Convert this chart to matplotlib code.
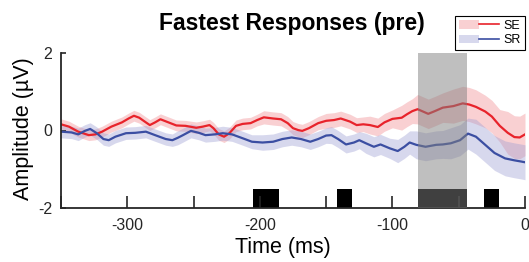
import matplotlib
matplotlib.use("Agg")
import matplotlib.pyplot as plt
from matplotlib.lines import Line2D
from matplotlib.patches import Patch
from matplotlib.legend_handler import HandlerTuple

plt.rcParams['font.family'] = ['Liberation Sans', 'DejaVu Sans']

# ---------------- data ----------------
title = "Fastest Responses (pre)"
xlabel = "Time (ms)"
ylabel = "Amplitude (\u00b5V)"
series_names = ["SE", "SR"]

red_t = [-350, -344, -337, -329, -324, -319, -312, -304, -299, -295,
         -291, -286, -283, -279, -275, -269, -263, -256, -248, -243,
         -238, -235, -231, -227, -223, -218, -213, -207, -202, -197,
         -190, -184, -179, -175, -171, -168, -163, -156, -150, -144,
         -139, -132, -127, -122, -117, -111, -106, -100, -93, -89,
         -85, -81, -77, -73, -68, -62, -54, -47, -42, -37,
         -30, -25, -19, -13, -8, -4, 0]
red_v = [0.16, 0.10, -0.03, -0.12, -0.10, -0.03, 0.10, 0.21, 0.31, 0.38,
         0.33, 0.21, 0.14, 0.21, 0.29, 0.21, 0.13, 0.12, 0.07, 0.10,
         0.14, 0.06, -0.10, -0.16, -0.07, 0.12, 0.17, 0.19, 0.27, 0.34,
         0.31, 0.29, 0.19, 0.06, 0.01, -0.01, 0.06, 0.19, 0.25, 0.27,
         0.31, 0.23, 0.14, 0.16, 0.14, 0.09, 0.21, 0.30, 0.33, 0.42,
         0.50, 0.55, 0.49, 0.43, 0.50, 0.59, 0.63, 0.70, 0.67, 0.61,
         0.49, 0.36, 0.12, -0.06, -0.17, -0.18, -0.10]
red_sem = [0.14, 0.14, 0.14, 0.14, 0.14, 0.14, 0.14, 0.14, 0.14, 0.14,
           0.14, 0.14, 0.14, 0.14, 0.14, 0.14, 0.14, 0.14, 0.15, 0.15,
           0.15, 0.15, 0.15, 0.15, 0.15, 0.15, 0.15, 0.15, 0.15, 0.17,
           0.17, 0.17, 0.17, 0.17, 0.17, 0.17, 0.17, 0.17, 0.19, 0.19,
           0.19, 0.19, 0.19, 0.19, 0.23, 0.23, 0.23, 0.23, 0.32, 0.32,
           0.32, 0.38, 0.38, 0.38, 0.38, 0.38, 0.44, 0.44, 0.44, 0.44,
           0.42, 0.42, 0.42, 0.55, 0.55, 0.55, 0.55]

blue_t = [-350, -342, -337, -332, -328, -323, -318, -314, -309, -301,
          -294, -286, -279, -271, -266, -262, -258, -252, -246, -241,
          -234, -228, -221, -213, -206, -198, -190, -183, -176, -169,
          -162, -156, -150, -146, -141, -135, -129, -125, -120, -114,
          -109, -102, -96, -91, -87, -82, -75, -67, -62, -56,
          -49, -43, -37, -30, -23, -15, -8, -3, 0]
blue_v = [-0.03, -0.05, -0.10, -0.01, 0.04, -0.07, -0.22, -0.25, -0.16, -0.07,
          -0.06, -0.03, -0.12, -0.22, -0.25, -0.19, -0.12, -0.01, -0.06, -0.12,
          -0.10, -0.07, -0.10, -0.20, -0.29, -0.31, -0.29, -0.22, -0.18, -0.22,
          -0.29, -0.22, -0.13, -0.12, -0.22, -0.36, -0.31, -0.25, -0.33, -0.42,
          -0.36, -0.46, -0.53, -0.42, -0.31, -0.37, -0.42, -0.37, -0.36, -0.33,
          -0.25, -0.08, -0.16, -0.37, -0.58, -0.72, -0.77, -0.80, -0.82]
blue_sem = [0.16, 0.16, 0.16, 0.16, 0.16, 0.16, 0.16, 0.16, 0.16, 0.16,
            0.16, 0.16, 0.16, 0.16, 0.16, 0.18, 0.18, 0.18, 0.18, 0.18,
            0.18, 0.18, 0.18, 0.18, 0.18, 0.20, 0.20, 0.20, 0.20, 0.20,
            0.20, 0.20, 0.20, 0.22, 0.22, 0.22, 0.22, 0.22, 0.26, 0.26,
            0.26, 0.26, 0.30, 0.30, 0.30, 0.36, 0.36, 0.36, 0.36, 0.40,
            0.40, 0.40, 0.45, 0.45, 0.45, 0.45, 0.45, 0.45, 0.45]

# significance windows (ms)
sig_start = [-205, -141.5, -80.5, -31]
sig_end = [-185.5, -130.5, -43.5, -19.5]
# highlighted window (ms)
win_start = -80.5
win_end = -43.5

xticks = [-350, -300, -250, -200, -150, -100, -50, 0]
xticklabels = ["", "-300", "", "-200", "", "-100", "", "0"]
yticks = [-2, 0, 2]
yticklabels = ["-2", "0", "2"]

# ---------------- styling ----------------
red = "#e8232b"
blue = "#3b4ea2"
red_fill = "#f08a90"
blue_fill = "#9d9ed4"
W, H = 529, 262
fig = plt.figure(figsize=(W / 100, H / 100), dpi=100)
ax = fig.add_axes([61 / W, 1 - 208 / H, (525 - 61) / W, (208 - 53) / H])

lo_r = [v - s for v, s in zip(red_v, red_sem)]
hi_r = [v + s for v, s in zip(red_v, red_sem)]
lo_b = [v - s for v, s in zip(blue_v, blue_sem)]
hi_b = [v + s for v, s in zip(blue_v, blue_sem)]

ax.fill_between(red_t, lo_r, hi_r, color=red_fill, alpha=0.4, lw=0, zorder=1)
ax.fill_between(blue_t, lo_b, hi_b, color=blue_fill, alpha=0.4, lw=0, zorder=1)
ax.plot(red_t, red_v, color=red, lw=1.6, zorder=2, solid_joinstyle='round')
ax.plot(blue_t, blue_v, color=blue, lw=1.6, zorder=2, solid_joinstyle='round')

widths = [e - s for s, e in zip(sig_start, sig_end)]
ax.bar(sig_start, [0.5] * len(sig_start), width=widths, bottom=-2,
       align='edge', color='black', lw=0, zorder=1.5)

ax.axvspan(win_start, win_end, color=(0.5, 0.5, 0.5), alpha=0.5, lw=0, zorder=4)

ax.set_xlim(-350, 0)
ax.set_ylim(-2, 2)
ax.set_xticks(xticks)
ax.set_xticklabels(xticklabels)
ax.set_yticks(yticks)
ax.set_yticklabels(yticklabels)
for s in ["top", "right"]:
    ax.spines[s].set_visible(False)
for s in ["left", "bottom"]:
    ax.spines[s].set_linewidth(1.3)
    ax.spines[s].set_color("#262626")
ax.tick_params(axis='x', direction='in', length=9, width=1.2, pad=7.5,
               labelsize=11.5, colors="#262626")
ax.tick_params(axis='y', direction='in', length=3.5, width=1.2, pad=6.5,
               labelsize=11.5, colors="#262626")

fig.text(292 / W, 1 - 30 / H, title, ha='center', va='baseline',
         fontsize=16.5, fontweight='bold')
fig.text(283 / W, 1 - 253 / H, xlabel, ha='center', va='baseline',
         fontsize=15.5)
fig.text(23 / W, 1 - 129 / H, ylabel, ha='center', va='center',
         rotation=90, fontsize=15.5)

h_se = (Patch(facecolor=red_fill, alpha=0.4, lw=0), Line2D([], [], color=red, lw=1.2))
h_sr = (Patch(facecolor=blue_fill, alpha=0.4, lw=0), Line2D([], [], color=blue, lw=1.2))
leg = fig.legend([h_se, h_sr], series_names,
                 handler_map={tuple: HandlerTuple(ndivide=None, pad=0)},
                 loc='upper right', bbox_to_anchor=(525 / W, 1 - 16 / H),
                 bbox_transform=fig.transFigure, fontsize=9,
                 frameon=True, fancybox=False, framealpha=1,
                 borderaxespad=0, handlelength=3.2, handleheight=0.7,
                 handletextpad=0.4, borderpad=0.3, labelspacing=0.2)
leg.get_frame().set_edgecolor('black')
leg.get_frame().set_linewidth(0.8)

fig.savefig("out.png", dpi=100)
